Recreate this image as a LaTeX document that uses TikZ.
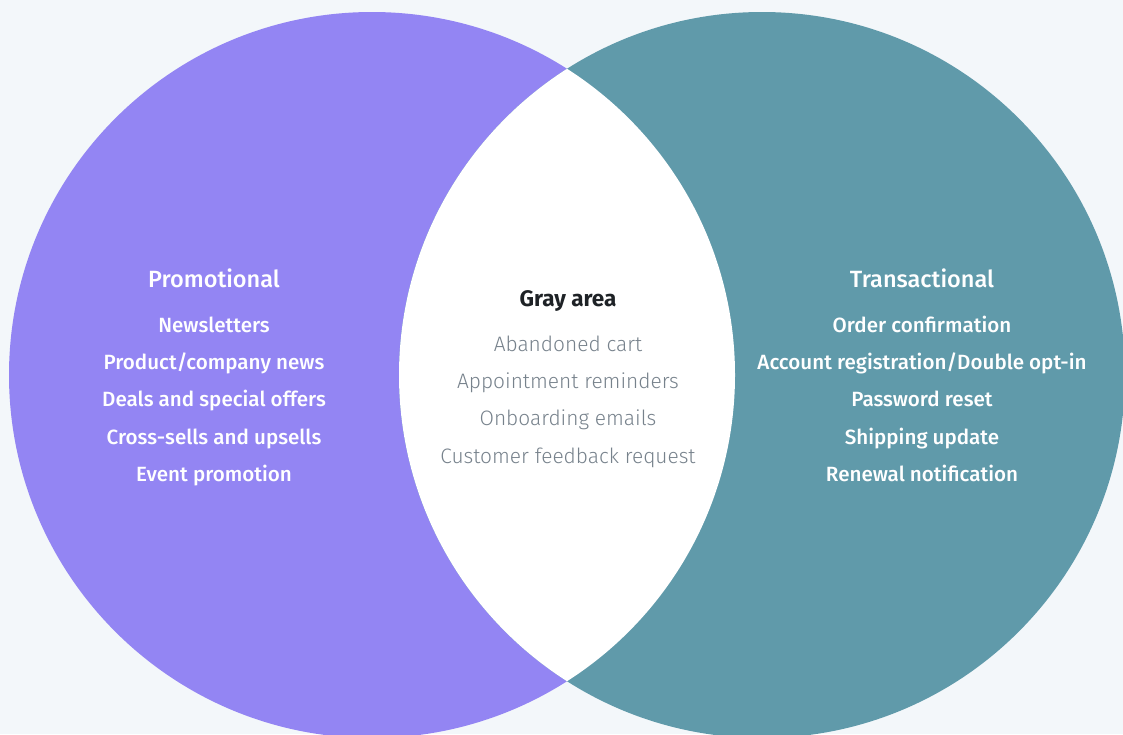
\documentclass[tikz,border=0pt]{standalone}
\usepackage{fontspec}
\setmainfont{Fira Sans}
\newfontfamily\medfont{Fira Sans Medium}
\newfontfamily\litefont{Fira Sans Light}
\definecolor{bgcol}{HTML}{F3F7FA}
\definecolor{promo}{HTML}{9385F3}
\definecolor{trans}{HTML}{609AAA}
\definecolor{graytxt}{HTML}{77828C}
\definecolor{darktxt}{HTML}{1E2226}
\begin{document}
\begin{tikzpicture}[x=1pt, y=-1pt,
  every node/.style={anchor=base},
  head/.style={font=\medfont\fontsize{23.5}{28}\selectfont, text=white},
  item/.style={font=\medfont\fontsize{20.6}{25}\selectfont, text=white},
  grayhead/.style={font=\bfseries\fontsize{22.5}{27}\selectfont, text=darktxt},
  grayitem/.style={font=\litefont\fontsize{20.9}{25}\selectfont, text=graytxt}]
% page and background
\fill[bgcol] (0,0) rectangle (1123,734);
\clip (0,0) rectangle (1123,734);
% the two sets
\fill[promo] (372,375) circle[radius=363pt];
\fill[trans] (762,375) circle[radius=363pt];
% overlap
\begin{scope}
  \clip (372,375) circle[radius=363pt];
  \fill[white] (762,375) circle[radius=363pt];
\end{scope}
% left set (y = baselines)
\node[head] (promo) at (214,287) {Promotional};
\node[item] (p1) at (214,332) {Newsletters};
\node[item] (p2) at (214,369) {Product/company news};
\node[item] (p3) at (214,406) {Deals and special offers};
\node[item] (p4) at (214,444) {Cross-sells and upsells};
\node[item] (p5) at (214,481) {Event promotion};
% overlap
\node[grayhead] (gray) at (568,306) {Gray area};
\node[grayitem] (g1) at (568,351) {Abandoned cart};
\node[grayitem] (g2) at (568,388) {Appointment reminders};
\node[grayitem] (g3) at (568,425) {Onboarding emails};
\node[grayitem] (g4) at (568,463) {Customer feedback request};
% right set
\node[head] (trans) at (922,287) {Transactional};
\node[item] (t1) at (922,332) {Order confirmation};
\node[item] (t2) at (922,369) {Account registration/Double opt-in};
\node[item] (t3) at (922,406) {Password reset};
\node[item] (t4) at (922,444) {Shipping update};
\node[item] (t5) at (922,481) {Renewal notification};
\end{tikzpicture}
\end{document}
